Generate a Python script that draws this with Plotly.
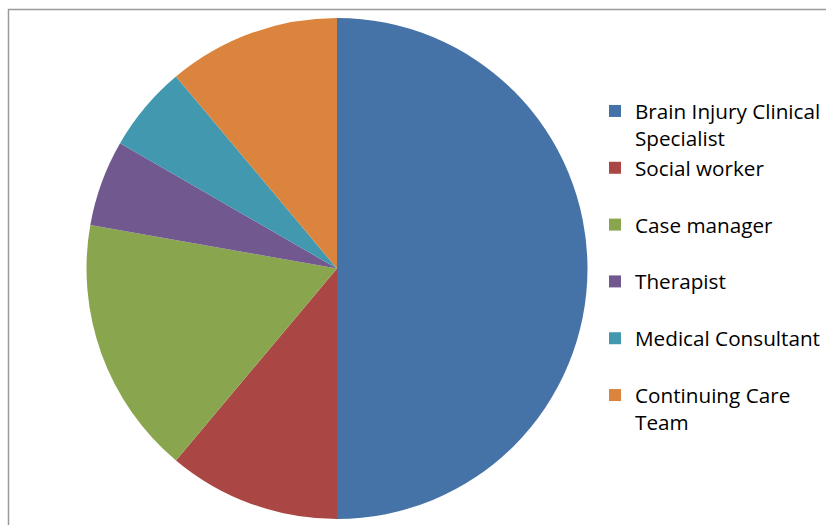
import plotly.graph_objects as go

# Staff roles and how many of each (pie slices, clockwise from 12 o'clock)
roles = [
    "Brain Injury Clinical<br>Specialist",
    "Social worker",
    "Case manager",
    "Therapist",
    "Medical Consultant",
    "Continuing Care<br>Team",
]
counts = [9, 2, 3, 1, 1, 2]
colors = ["#4572A7", "#AA4643", "#89A54E", "#71588F", "#4198AF", "#DB843D"]

W, H = 826, 525

# every legend entry gets two text lines so the entries are evenly spaced
legend_labels = [r if "<br>" in r else r + "<br>&nbsp;" for r in roles]

fig = go.Figure(
    go.Pie(
        labels=legend_labels,
        values=counts,
        sort=False,
        direction="clockwise",
        rotation=0,
        marker=dict(colors=colors, line=dict(width=0)),
        textinfo="none",
        hoverinfo="label+value+percent",
        domain=dict(x=[84 / W, 590 / W], y=[1 - 519 / H, 1 - 18 / H]),
    )
)

# chart frame (runs off the right and bottom edges)
fig.add_shape(
    type="rect", xref="paper", yref="paper",
    x0=8.5 / W, x1=1.05, y0=-0.05, y1=1 - 9.5 / H,
    line=dict(color="#9A9A9A", width=1.5),
)

fig.update_layout(
    width=W, height=H,
    margin=dict(l=0, r=0, t=0, b=0),
    paper_bgcolor="white",
    plot_bgcolor="white",
    showlegend=True,
    legend=dict(
        x=595 / W, y=1 - 91 / H, xanchor="left", yanchor="top",
        font=dict(family="Open Sans", size=20.7, color="#000000"),
        valign="top",
        traceorder="normal",
        bgcolor="rgba(0,0,0,0)",
        itemclick=False,
    ),
)

fig.write_html("out.html")
